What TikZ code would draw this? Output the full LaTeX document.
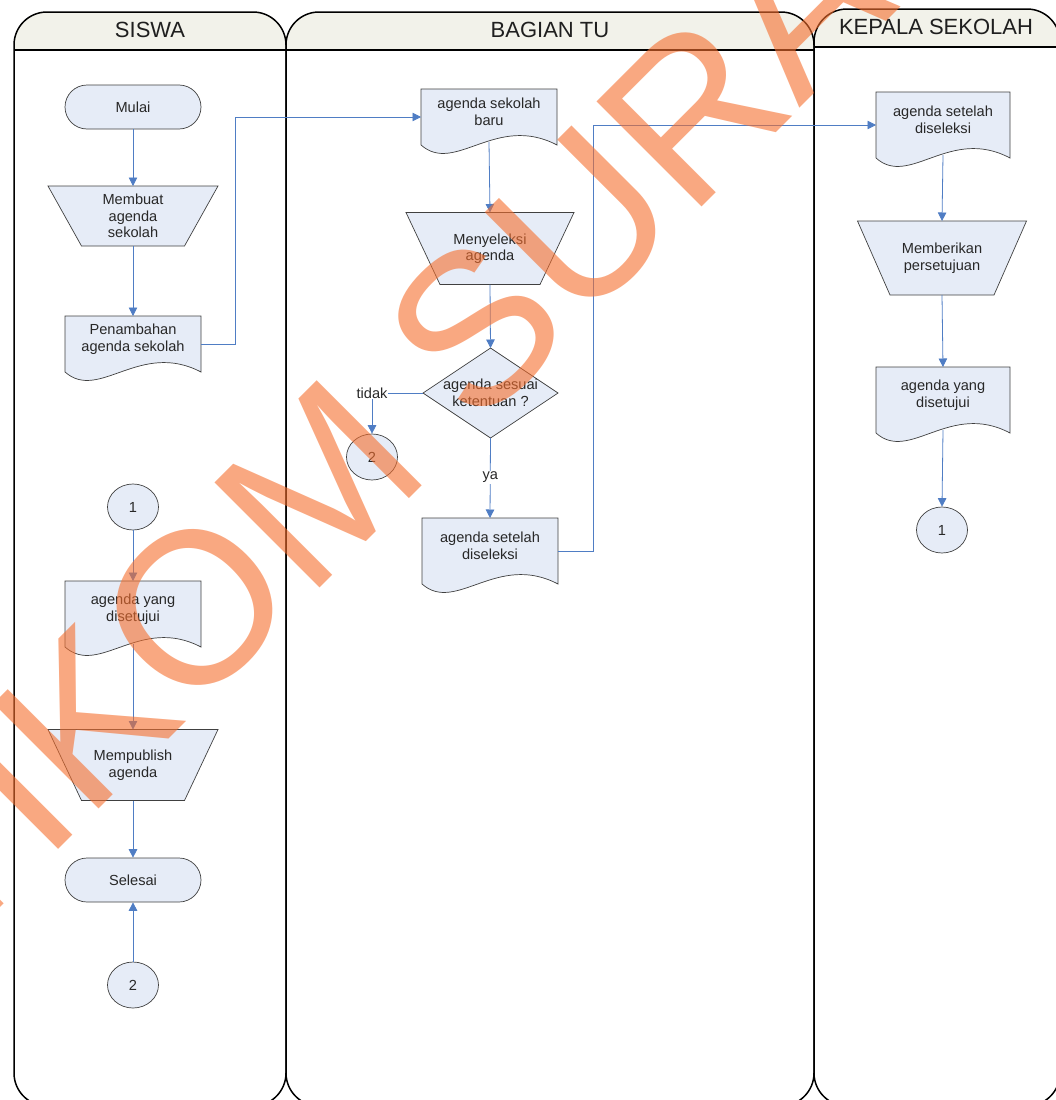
\documentclass[tikz,border=0pt]{standalone}
\usepackage{fontspec}
\setmainfont{Liberation Sans}
\usetikzlibrary{arrows.meta,shapes.geometric,calc}
\definecolor{nodefill}{RGB}{230,236,247}
\definecolor{nodeline}{RGB}{64,64,64}
\definecolor{arrowc}{RGB}{79,125,196}
\definecolor{headfill}{RGB}{242,242,234}
\definecolor{wm}{RGB}{245,110,45}
\definecolor{txtc}{RGB}{40,40,40}

\newcommand\trapz[7]{%
  \path[shapeline] ({#2-#4/2},{#3-#6/2}) -- ({#2+#4/2},{#3-#6/2}) -- ({#2+#5/2},{#3+#6/2}) -- ({#2-#5/2},{#3+#6/2}) -- cycle;
  \node[shp, txt, minimum width=#4pt, minimum height=#6pt] (#1) at (#2,#3) {#7};
}
\newcommand\docu[7]{%
  \path[shapeline] (#2,#3) -- ({#2+#4},#3) -- ({#2+#4},{#3+#5}) .. controls ({#2+0.55*#4},{#3+#5-32}) and ({#2+0.25*#4},{#3+#5+30}) .. (#2,{#3+#5}) -- cycle;
  \node[shp, minimum width=#4pt, minimum height=#5pt] (#1) at ({#2+#4/2},{#3+#5/2}) {};
  \node[txt] (#7) at ({#2+#4/2},{#3+#5/2-5}) {#6};
}

\begin{document}
\begin{tikzpicture}[x=1pt,y=-1pt,
  shapeline/.style={draw=nodeline, fill=nodefill, line width=0.7pt},
  txt/.style={font=\fontsize{14.6}{16.5}\selectfont, text=txtc, align=center, inner sep=0pt},
  shp/.style={draw=none, inner sep=0pt, outer sep=0pt},
  term/.style={draw=nodeline, fill=nodefill, line width=0.7pt, rounded corners=22pt, minimum width=136pt, minimum height=44pt, txt},
  ell/.style={ellipse, draw=nodeline, fill=nodefill, line width=0.7pt, minimum width=51pt, minimum height=46pt, txt},
  conn/.style={draw=arrowc, line width=0.8pt, -{Triangle[width=8.5pt,length=8.5pt]}},
  lane/.style={draw=black, line width=1.5pt},
  head/.style={font=\fontsize{22}{26}\selectfont, text=black!88, inner sep=0pt},
  lbl/.style={font=\fontsize{14.6}{16}\selectfont, text=txtc, fill=white, inner sep=1pt}
]
\useasboundingbox (0,0) rectangle (1056,1100);
\clip (0,0) rectangle (1056,1100);

% lanes: header fills
\fill[headfill, rounded corners=33pt] (14,12) rectangle (286,120);
\fill[headfill, rounded corners=33pt] (286,12) rectangle (814,120);
\fill[headfill, rounded corners=33pt] (814,9) rectangle (1060,120);
\fill[white] (14,50) rectangle (814,130);
\fill[white] (814,47) rectangle (1060,130);
% lane outlines
\draw[lane, rounded corners=33pt] (14,12) rectangle (286,1106);
\draw[lane, rounded corners=33pt] (286,12) rectangle (814,1106);
\draw[lane, rounded corners=33pt] (814,9) rectangle (1060,1106);
\draw[lane] (14,50) -- (814,50);
\draw[lane] (814,47) -- (1060,47);
\node[head] (h1) at (150,30) {SISWA};
\node[head] (h2) at (550,30) {BAGIAN TU};
\node[head] (h3) at (936,27) {KEPALA SEKOLAH};

% lane 1
\node[term] (mulai) at (133,107) {Mulai};
\trapz{buat}{133}{216}{170}{103}{60}{Membuat\\agenda\\sekolah}
\docu{penam}{65}{316}{136}{56}{Penambahan\\agenda sekolah}{penamt}
\node[ell] (c1a) at (133,507) {1};
\docu{setuju1}{65}{581}{136}{66}{agenda yang\\disetujui}{setuju1t}
\trapz{publish}{133}{765}{170}{103}{71}{Mempublish\\agenda}
\node[term] (selesai) at (133,880) {Selesai};
\node[ell] (c2b) at (133,985) {2};

% lane 2
\docu{baru}{421}{89}{136}{56}{agenda sekolah\\baru}{barut}
\trapz{seleksi}{490}{248.5}{168}{100}{72}{Menyeleksi\\agenda}
\path[shapeline] (490.5,348) -- (558,393) -- (490.5,438) -- (423,393) -- cycle;
\node[shp, txt, minimum width=135pt, minimum height=90pt] (dia) at (490.5,393) {agenda sesuai\\ketentuan ?};
\node[ell] (c2a) at (372,457) {2};
\docu{hasil}{422}{518}{136}{66}{agenda setelah\\diseleksi}{hasilt}

% lane 3
\docu{hasiltiga}{876}{92}{134}{66}{agenda setelah\\diseleksi}{hasiltigat}
\trapz{beri}{942}{258}{169}{104}{74}{Memberikan\\persetujuan}
\docu{setujutiga}{876}{367}{134}{66}{agenda yang\\disetujui}{setujutigat}
\node[ell] (c1b) at (942,530) {1};

% connectors
\draw[conn] (mulai.south) -- (buat.north);
\draw[conn] (buat.south) -- (penam.north);
\draw[conn] (penam.east) -- ++(34,0) |- (baru.west);
\draw[conn] (c1a.south) -- (setuju1.north);
\draw[conn] ([yshift=3pt]setuju1.south) -- (publish.north);
\draw[conn] (publish.south) -- (selesai.north);
\draw[conn] (c2b.north) -- (selesai.south);

\draw[conn] ([yshift=3pt]baru.south) -- (seleksi.north);
\draw[conn] (seleksi.south) -- (dia.north);
\draw[conn] (dia.west) -| node[lbl, pos=0.5] (tidak) {tidak} (c2a.north);
\draw[conn] (dia.south) -- node[lbl, pos=0.49] (ya) {ya} (hasil.north);
\draw[conn] (hasil.east) -- ++(35,0) |- (hasiltiga.west);

\draw[conn] ([yshift=3pt]hasiltiga.south) -- (beri.north);
\draw[conn] (beri.south) -- (setujutiga.north);
\draw[conn] ([yshift=3pt]setujutiga.south) -- (c1b.north);

% watermark
\node[rotate=45, text=wm, opacity=0.6, inner sep=0pt, font=\fontsize{216}{216}\selectfont] (wmark) at (515,288) {STIKOM SURABAYA};
\end{tikzpicture}
\end{document}
